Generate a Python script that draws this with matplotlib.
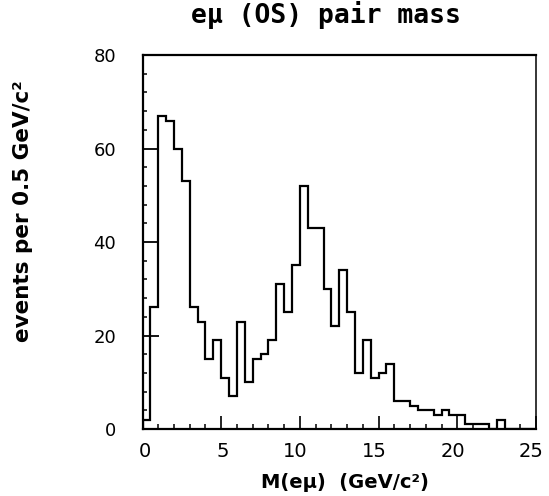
import numpy as np
import matplotlib
matplotlib.use("Agg")
from matplotlib import pyplot as plt
from matplotlib.ticker import MultipleLocator
from matplotlib.transforms import ScaledTranslation

# e-mu opposite sign pair mass, 0.5 GeV bins from 0 to 25
bin_edges = np.arange(0, 25.01, 0.5)
counts = [2, 26, 67, 66, 60, 53, 26, 23, 15, 19,
          11, 7, 23, 10, 15, 16, 19, 31, 25, 35,
          52, 43, 43, 30, 22, 34, 25, 12, 19, 11,
          12, 14, 6, 6, 5, 4, 4, 3, 4, 3,
          3, 1, 1, 1, 0, 2, 0, 0, 0, 0]
xticks = [0, 5, 10, 15, 20, 25]
yticks = [0, 20, 40, 60, 80]

title = "e\u03bc (OS) pair mass"
xlabel = "M(e\u03bc)  (GeV/c\u00b2)"
ylabel = "events per 0.5 GeV/c\u00b2"


def makePlot():
    fig = plt.figure(figsize=(5.49, 4.96), dpi=100)
    ax = fig.add_axes([0.2596, 0.135, 0.7167, 0.754])

    ax.stairs(counts, bin_edges, color="black", linewidth=1.6)

    ax.set_xlim(0, 25)
    ax.set_ylim(0, 80)
    ax.set_xticks(xticks)
    ax.set_yticks(yticks)
    ax.xaxis.set_minor_locator(MultipleLocator(1))
    ax.yaxis.set_minor_locator(MultipleLocator(4))

    ax.tick_params(axis="both", which="both", direction="in", color="black",
                   top=False, right=False)
    ax.tick_params(axis="x", which="major", length=9.5, width=1.2, pad=9,
                   labelsize=14)
    ax.tick_params(axis="x", which="minor", length=3.5, width=1.1)
    ax.tick_params(axis="y", which="major", length=11.5, width=1.3, pad=19,
                   labelsize=13)
    ax.tick_params(axis="y", which="minor", length=3, width=1.1)

    # last digit of each x label sits on the tick, like the plotter did it
    shift = ScaledTranslation(0.08, 0, fig.dpi_scale_trans)
    for lab in ax.get_xticklabels():
        lab.set_horizontalalignment("right")
        lab.set_transform(lab.get_transform() + shift)

    for side in ["left", "bottom", "top"]:
        ax.spines[side].set_linewidth(1.6)
    ax.spines["right"].set_linewidth(1.1)

    ax.text(0.466, 1.107, title, transform=ax.transAxes, ha="center",
            va="center", fontsize=19, fontweight="bold",
            family="DejaVu Sans Mono")
    ax.set_xlabel(xlabel, fontsize=14, fontweight="bold", va="center")
    ax.xaxis.set_label_coords(0.515, -0.142)
    ax.set_ylabel(ylabel, fontsize=15.5, fontweight="bold", va="center")
    ax.yaxis.set_label_coords(-0.304, 0.583)

    fig.savefig("out.png", dpi=100, facecolor="white")


if __name__ == '__main__':
    makePlot()
